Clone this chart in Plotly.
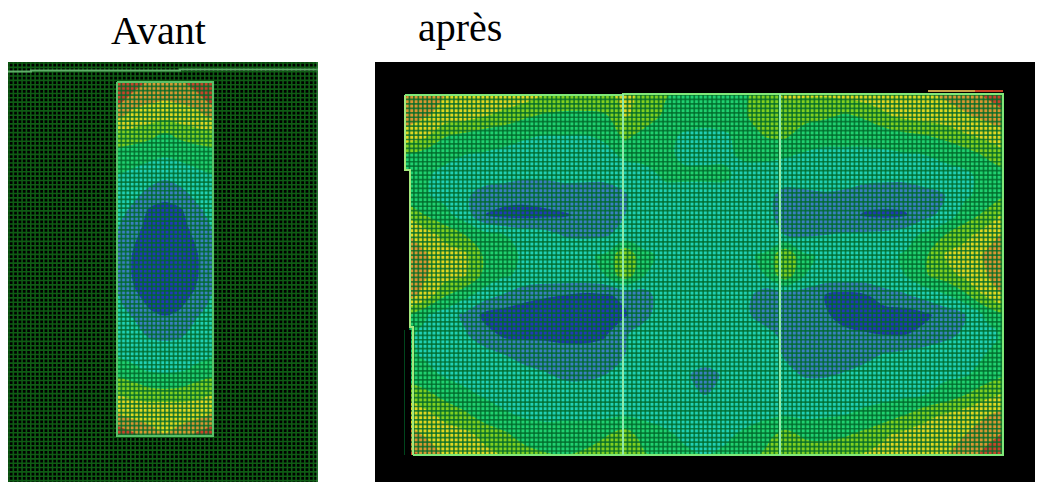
import numpy as np
import plotly.graph_objects as go

TITLE_BEFORE = "Avant"
TITLE_AFTER = "après"

# Levels: 0 dark blue, 1 steel blue, 2 teal, 3 green, 4 yellow-green, 5 yellow, 6 orange, 7 red
LEVEL_COLORS = ["#2238b8", "#3a80c0", "#20d0b4", "#20d070", "#80d020", "#e0d820", "#d89830", "#c84428"]

before_x = [117, 133, 149, 165, 181, 197, 213]
before_y = [82, 98, 114, 130, 146, 162, 178, 194, 210, 226, 242, 258, 274, 290, 306, 322, 338, 354, 370, 386, 402, 418, 436]
before_z = [
    [7.4, 7.0, 6.4, 6.0, 6.4, 7.0, 7.4],
    [7.0, 6.2, 5.8, 5.6, 5.8, 6.2, 7.0],
    [6.0, 5.2, 5.0, 5.0, 5.0, 5.2, 6.0],
    [4.6, 4.4, 4.2, 3.6, 4.2, 4.4, 4.6],
    [3.6, 3.4, 3.1, 3.0, 3.1, 3.4, 3.6],
    [2.9, 2.7, 2.5, 2.3, 2.5, 2.7, 2.9],
    [2.4, 2.2, 1.9, 1.6, 1.9, 2.2, 2.4],
    [2.2, 1.8, 1.2, 0.8, 1.2, 1.8, 2.2],
    [1.9, 1.3, 0.4, 0.2, 0.4, 1.3, 1.9],
    [1.6, 0.9, 0.2, 0.0, 0.2, 0.9, 1.6],
    [1.5, 0.6, 0.0, 0.0, 0.0, 0.6, 1.5],
    [1.5, 0.4, 0.0, 0.0, 0.0, 0.4, 1.5],
    [1.5, 0.4, 0.0, 0.0, 0.0, 0.4, 1.5],
    [1.5, 0.6, 0.0, 0.0, 0.0, 0.6, 1.5],
    [1.7, 1.2, 0.4, 0.2, 0.4, 1.2, 1.7],
    [2.0, 1.6, 1.0, 0.7, 1.0, 1.6, 2.0],
    [2.2, 1.9, 1.5, 1.4, 1.5, 1.9, 2.2],
    [2.4, 2.2, 2.0, 2.0, 2.0, 2.2, 2.4],
    [3.0, 2.7, 2.4, 2.3, 2.4, 2.7, 3.0],
    [4.2, 3.8, 3.4, 3.3, 3.4, 3.8, 4.2],
    [4.8, 4.6, 4.5, 4.5, 4.5, 4.6, 4.8],
    [5.8, 5.4, 5.2, 5.0, 5.2, 5.4, 5.8],
    [7.4, 6.8, 6.0, 5.6, 6.0, 6.8, 7.4],
]

after_x = [405, 425, 445, 465, 485, 505, 525, 545, 565, 585, 605, 625, 645, 665, 685, 705,
           725, 745, 765, 785, 805, 825, 845, 865, 885, 905, 925, 945, 965, 985, 1003]
after_y = [95, 115, 135, 155, 175, 195, 215, 235, 255, 275, 295, 315, 335, 355, 375, 395, 415, 435, 455]
after_z = [
    [6.6, 6.0, 5.5, 5.2, 5.2, 5.2, 5.0, 4.5, 4.3, 4.3, 4.4, 4.6, 4.4, 3.6, 3.1, 3.0, 3.0, 3.3, 4.2, 4.6, 4.6, 4.6, 4.8, 5.0, 5.0, 5.2, 5.4, 5.6, 6.0, 6.6, 7.2],
    [6.0, 5.6, 5.2, 5.0, 4.6, 4.2, 3.7, 3.4, 3.3, 3.3, 3.4, 4.6, 4.2, 3.3, 3.0, 2.9, 3.0, 3.4, 4.2, 4.2, 3.9, 3.7, 3.4, 3.7, 4.4, 4.8, 5.0, 5.2, 5.4, 5.8, 6.2],
    [5.2, 4.8, 3.6, 3.3, 3.0, 2.8, 2.6, 2.5, 2.5, 2.5, 2.7, 3.8, 3.1, 2.7, 2.4, 2.3, 2.4, 2.8, 3.6, 3.7, 3.0, 2.8, 2.8, 2.8, 3.0, 3.3, 3.5, 3.8, 4.4, 4.8, 5.2],
    [3.4, 3.0, 2.7, 2.5, 2.4, 2.3, 2.2, 2.1, 2.1, 2.1, 2.2, 2.7, 2.7, 2.6, 2.4, 2.4, 2.4, 2.6, 2.7, 2.6, 2.4, 2.3, 2.3, 2.3, 2.3, 2.4, 2.5, 2.7, 3.0, 3.6, 4.2],
    [3.0, 2.6, 2.3, 2.2, 2.1, 1.9, 1.7, 1.7, 1.7, 1.8, 1.8, 2.0, 2.3, 2.6, 2.6, 2.6, 2.6, 2.3, 2.1, 2.0, 2.0, 2.0, 2.0, 1.9, 1.8, 1.8, 2.0, 2.2, 2.3, 2.8, 3.2],
    [3.0, 2.6, 2.2, 1.7, 1.0, 0.9, 0.8, 0.9, 1.2, 1.0, 1.0, 1.4, 2.2, 2.3, 2.3, 2.3, 2.3, 2.2, 1.8, 1.2, 1.3, 1.4, 1.3, 1.0, 1.0, 1.0, 1.2, 1.5, 2.3, 2.9, 3.4],
    [4.5, 3.5, 2.8, 2.0, 0.5, 0.2, 0.2, 0.3, 0.4, 0.7, 1.2, 1.5, 2.2, 2.3, 2.3, 2.3, 2.3, 2.2, 1.8, 1.1, 1.1, 1.0, 0.8, 0.4, 0.3, 0.4, 1.2, 1.8, 3.0, 3.7, 4.6],
    [5.6, 5.0, 4.2, 3.5, 2.9, 2.5, 2.1, 1.9, 1.4, 1.3, 1.4, 1.8, 2.2, 2.3, 2.3, 2.3, 2.3, 2.2, 1.9, 1.5, 1.4, 1.5, 1.6, 1.7, 1.8, 2.1, 2.7, 3.5, 4.2, 5.0, 5.6],
    [6.0, 5.6, 5.0, 4.7, 3.3, 2.7, 2.4, 2.3, 2.3, 2.4, 2.6, 4.4, 2.6, 2.4, 2.3, 2.3, 2.3, 2.4, 2.6, 4.4, 2.6, 2.4, 2.3, 2.3, 2.3, 2.6, 3.3, 4.6, 5.0, 5.6, 6.0],
    [6.4, 5.6, 5.0, 4.6, 3.2, 2.6, 2.3, 2.2, 2.2, 2.3, 2.5, 4.2, 2.5, 2.3, 2.3, 2.3, 2.3, 2.3, 2.5, 4.2, 2.5, 2.2, 2.2, 2.2, 2.3, 2.5, 3.4, 4.0, 4.8, 5.4, 6.2],
    [6.0, 5.2, 3.6, 2.8, 2.0, 1.4, 0.8, 0.6, 0.5, 0.3, 0.4, 0.7, 1.1, 2.2, 2.3, 2.3, 2.3, 1.8, 1.0, 1.0, 1.0, 0.5, 0.2, 0.4, 1.1, 1.4, 1.9, 2.4, 3.3, 4.6, 5.6],
    [3.8, 2.6, 2.0, 1.3, 0.2, 0.0, 0.0, 0.0, 0.0, 0.1, 0.2, 0.4, 1.2, 2.2, 2.3, 2.3, 2.3, 1.7, 1.0, 1.0, 1.0, 0.6, 0.2, 0.0, 0.0, 0.0, 0.3, 0.9, 1.4, 2.6, 3.4],
    [2.7, 2.3, 1.9, 1.6, 0.9, 0.3, 0.3, 0.3, 0.2, 0.2, 0.4, 1.4, 2.1, 2.3, 2.3, 2.3, 2.3, 2.2, 1.9, 1.2, 1.0, 1.0, 0.7, 0.6, 0.5, 0.5, 0.8, 1.2, 1.7, 2.2, 2.6],
    [2.7, 2.4, 2.2, 2.1, 1.9, 1.5, 1.1, 1.0, 0.9, 0.9, 1.0, 1.5, 2.2, 2.3, 2.3, 2.3, 2.3, 2.2, 2.1, 1.4, 1.0, 1.0, 1.0, 1.2, 1.6, 1.8, 2.0, 2.2, 2.3, 2.5, 2.8],
    [3.1, 2.8, 2.4, 2.2, 2.2, 2.1, 1.9, 1.6, 1.3, 1.3, 1.5, 2.0, 2.2, 2.2, 1.7, 1.0, 1.7, 2.2, 2.1, 1.8, 1.4, 1.4, 1.6, 1.9, 2.0, 2.1, 2.2, 2.3, 2.4, 2.9, 3.4],
    [4.4, 3.8, 3.2, 2.7, 2.4, 2.2, 2.1, 2.1, 2.0, 2.0, 2.1, 2.1, 2.2, 2.2, 2.1, 1.5, 2.1, 2.2, 2.2, 2.1, 2.1, 2.1, 2.2, 2.2, 2.2, 2.3, 2.5, 2.9, 3.5, 4.2, 4.6],
    [5.2, 4.8, 4.2, 3.7, 3.0, 2.6, 2.4, 2.3, 2.3, 2.3, 2.3, 2.4, 2.3, 2.3, 2.3, 2.2, 2.3, 2.3, 2.3, 2.4, 2.3, 2.4, 2.5, 2.7, 3.0, 3.5, 4.2, 4.6, 5.0, 5.4, 5.8],
    [6.0, 5.4, 5.0, 4.8, 4.2, 3.7, 3.0, 2.9, 3.0, 3.0, 3.4, 4.0, 3.0, 2.6, 2.4, 2.3, 2.4, 2.6, 3.1, 3.9, 3.3, 3.2, 3.4, 3.8, 4.4, 4.8, 5.0, 5.2, 5.5, 6.0, 6.6],
    [6.8, 6.4, 5.4, 5.0, 4.8, 4.4, 4.0, 3.6, 3.5, 3.7, 4.2, 4.4, 3.6, 3.0, 2.6, 2.5, 2.6, 3.0, 3.7, 4.4, 4.2, 4.2, 4.4, 4.6, 4.8, 5.0, 5.2, 5.4, 6.0, 6.8, 7.2],
]

MESH_PITCH_BEFORE = 4.35
MESH_PITCH_AFTER = 4.45
MESH_OVERLAY = "rgba(0,105,42,0.78)"
MESH_BACKGROUND = "#0f5c14"
W, H = 1039, 482


def stepped_scale():
    n = len(LEVEL_COLORS)
    scale = []
    for i, c in enumerate(LEVEL_COLORS):
        scale += [[i / n, c], [(i + 1) / n, c]]
    return scale


def mesh(x0, x1, y0, y1, pitch, ox=None, oy=None):
    """Mesh lines on a regular pitch, each clipped to the box, anchored on (ox, oy)."""
    ox = x0 if ox is None else ox
    oy = y0 if oy is None else oy
    xs, ys = [], []
    for x in np.arange(ox + np.ceil((x0 - ox) / pitch) * pitch, x1 + 0.01, pitch):
        xs += [float(x), float(x), None]
        ys += [y0, y1, None]
    for y in np.arange(oy + np.ceil((y0 - oy) / pitch) * pitch, y1 + 0.01, pitch):
        xs += [x0, x1, None]
        ys += [float(y), float(y), None]
    return xs, ys


def field(x, y, z, xa, ya):
    return go.Contour(
        x=x, y=y, z=z, xaxis=xa, yaxis=ya, showscale=False, hoverinfo="skip",
        colorscale=stepped_scale(), zmin=-0.5, zmax=7.5,
        contours=dict(start=0.5, end=6.5, size=1, coloring="fill", showlines=False),
        line=dict(width=0, smoothing=1.0),
    )


def path(x, y, xa, ya, color, width):
    return go.Scatter(x=x, y=y, xaxis=xa, yaxis=ya, mode="lines", hoverinfo="skip",
                      line=dict(color=color, width=width), connectgaps=False)


fig = go.Figure()
fig.add_trace(field(before_x, before_y, before_z, "x", "y"))
fig.add_trace(field(after_x, after_y, after_z, "x2", "y2"))

# dark background mesh of the first panel, in the four strips round the field
for box in [(8, 117, 62, 482), (213, 318, 62, 482), (117, 213, 62, 82), (117, 213, 436, 482)]:
    mx, my = mesh(*box, MESH_PITCH_BEFORE, ox=9, oy=63)
    fig.add_trace(path(mx, my, "x", "y", MESH_BACKGROUND, 1.6))

mx, my = mesh(117, 213, 82, 436, MESH_PITCH_BEFORE)
fig.add_trace(path(mx, my, "x", "y", MESH_OVERLAY, 1.7))
mx, my = mesh(405, 1003, 95, 455, MESH_PITCH_AFTER)
fig.add_trace(path(mx, my, "x2", "y2", MESH_OVERLAY, 1.7))

# outlines
fig.add_trace(path([117, 213, 213, 117, 117], [82, 82, 436, 436, 82], "x", "y", "#58c068", 2))
fig.add_trace(path([8, 31, 31, 180, 180, 318], [71.5, 71.5, 70.5, 70.5, 69.5, 69.5], "x", "y", "#5fae68", 2))
fig.add_trace(path([317, 317], [62, 482], "x", "y", "#3f8a48", 1))
# black notch on the stepped left edge of the second panel
fig.add_trace(path([406, 406, None, 408, 408], [170, 330, None, 330, 458], "x2", "y2", "black", 6))
fig.add_trace(path([405, 405, 410, 410, 413, 413], [95, 170, 170, 327, 327, 455], "x2", "y2", "#a4e87c", 2))
fig.add_trace(path([405, 623, 623, 1003, 1003, 413], [95, 95, 94, 94, 455, 455], "x2", "y2", "#7fe878", 2))
fig.add_trace(path([623, 623, None, 780, 780], [94, 455, None, 94, 455], "x2", "y2", "#8ee8a8", 2))
fig.add_trace(path([928, 975], [91, 91], "x2", "y2", "#c8a048", 2))
fig.add_trace(path([975, 1003], [91, 91], "x2", "y2", "#c84428", 2))

axis = dict(visible=False, showgrid=False, zeroline=False, fixedrange=True)
fig.update_layout(
    width=W, height=H, margin=dict(l=0, r=0, t=0, b=0), showlegend=False,
    paper_bgcolor="white", plot_bgcolor="black",
    xaxis=dict(axis, domain=[8 / W, 318 / W], range=[8, 318]),
    yaxis=dict(axis, domain=[0, 1 - 62 / H], range=[482, 62]),
    xaxis2=dict(axis, domain=[375 / W, 1035 / W], range=[375, 1035], anchor="y2"),
    yaxis2=dict(axis, domain=[0, 1 - 62 / H], range=[482, 62], anchor="x2"),
    annotations=[
        dict(text=TITLE_BEFORE, x=158 / W, y=1 - 30 / H, xref="paper", yref="paper", showarrow=False,
             font=dict(family="Liberation Serif", size=40, color="black"), xanchor="center", yanchor="middle"),
        dict(text=TITLE_AFTER, x=460 / W, y=1 - 27 / H, xref="paper", yref="paper", showarrow=False,
             font=dict(family="Liberation Serif", size=40, color="black"), xanchor="center", yanchor="middle"),
    ],
)
fig.write_html("out.html", config=dict(displayModeBar=False),
               post_script="document.body.style.margin='0';document.body.style.overflow='hidden';")
